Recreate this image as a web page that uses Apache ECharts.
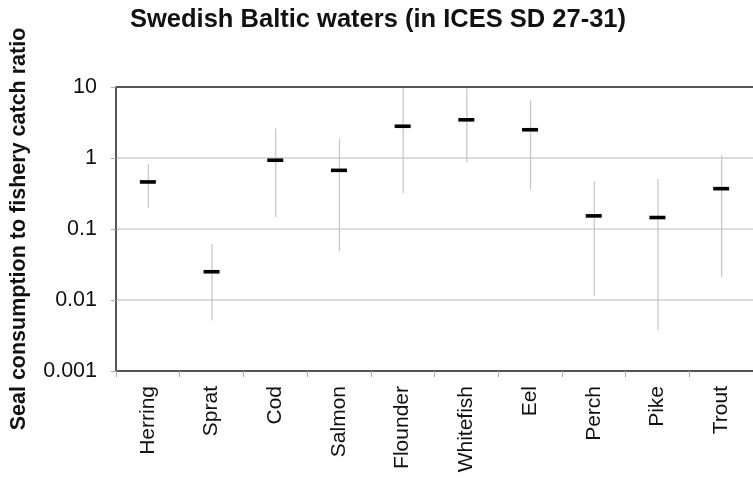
<!DOCTYPE html>
<html>
<head>
<meta charset="utf-8">
<script src="https://cdn.jsdelivr.net/npm/echarts@6/dist/echarts.min.js"></script>
<style>
  html, body { margin: 0; padding: 0; background: #fff; }
  #chart { width: 753px; height: 480px; }
</style>
</head>
<body>
<div id="chart"></div>
<script>
// Species and ratio estimates (central value with lower/upper range)
const categories = ['Herring', 'Sprat', 'Cod', 'Salmon', 'Flounder', 'Whitefish', 'Eel', 'Perch', 'Pike', 'Trout'];
const meanValues = [0.46, 0.025, 0.93, 0.67, 2.8, 3.45, 2.5, 0.153, 0.145, 0.37];
const lowValues  = [0.2, 0.0052, 0.148, 0.049, 0.32, 0.87, 0.36, 0.0115, 0.0038, 0.021];
const highValues = [0.83, 0.061, 2.6, 1.85, 10, 9.5, 6.5, 0.47, 0.51, 1.09];
const yTickLabels = ['0.001', '0.01', '0.1', '1', '10'];

const FONT = '"Liberation Sans", Arial, sans-serif';

const seriesData = categories.map((c, i) => [i, meanValues[i], lowValues[i], highValues[i]]);

const chart = echarts.init(document.getElementById('chart'), null, { renderer: 'canvas' });

chart.setOption({
  animation: false,
  backgroundColor: '#ffffff',
  title: {
    text: 'Swedish Baltic waters (in ICES SD 27-31)',
    left: 125,
    top: 2,
    textStyle: { fontFamily: FONT, fontSize: 25.5, fontWeight: 'bold', color: '#111' }
  },
  grid: { left: 110, right: -10, top: 87, bottom: 109, containLabel: false },
  xAxis: {
    type: 'category',
    data: categories,
    boundaryGap: true,
    axisLine: { lineStyle: { color: '#555', width: 2 } },
    axisTick: { show: true, length: 6, lineStyle: { color: '#aaa' } },
    axisLabel: {
      rotate: 90,
      margin: 15,
      fontFamily: FONT,
      fontSize: 21,
      color: '#111'
    },
    splitLine: { show: false }
  },
  yAxis: {
    type: 'log',
    logBase: 10,
    min: 0.001,
    max: 10,
    name: 'Seal consumption to fishery catch ratio',
    nameLocation: 'middle',
    nameGap: 86,
    nameTextStyle: { fontFamily: FONT, fontSize: 21.5, fontWeight: 'bold', color: '#111' },
    axisLine: { show: true, lineStyle: { color: '#555', width: 2 } },
    axisTick: { show: true, length: 5, lineStyle: { color: '#aaa' } },
    axisLabel: {
      fontFamily: FONT,
      fontSize: 21.5,
      color: '#111',
      margin: 19,
      formatter: function (v) {
        const idx = Math.round(Math.log10(v)) + 3;
        return yTickLabels[idx] !== undefined ? yTickLabels[idx] : '';
      }
    },
    splitLine: { show: true, lineStyle: { color: '#d0d0d0', width: 1.5 } }
  },
  series: [
    {
      // frame line along the top of the plot area (value 10)
      type: 'line',
      data: categories.map(() => 10),
      showSymbol: false,
      silent: true,
      lineStyle: { width: 0, opacity: 0 },
      markLine: {
        silent: true,
        symbol: 'none',
        label: { show: false },
        lineStyle: { color: '#555', width: 2, type: 'solid' },
        data: [{ yAxis: 10 }]
      }
    },
    {
      type: 'custom',
      data: seriesData,
      encode: { x: 0, y: [1, 2, 3] },
      renderItem: function (params, api) {
        const i = api.value(0);
        const mid = api.coord([i, api.value(1)]);
        const lo = api.coord([i, api.value(2)]);
        const hi = api.coord([i, api.value(3)]);
        const halfW = 8;
        return {
          type: 'group',
          children: [
            {
              type: 'line',
              shape: { x1: lo[0] + 0.5, y1: lo[1], x2: hi[0] + 0.5, y2: hi[1] },
              style: { stroke: '#c4c4c4', lineWidth: 1.2 }
            },
            {
              type: 'rect',
              shape: { x: mid[0] - halfW, y: mid[1] - 1.8, width: halfW * 2, height: 3.6 },
              style: { fill: '#000' }
            }
          ]
        };
      }
    }
  ]
});
</script>
</body>
</html>
